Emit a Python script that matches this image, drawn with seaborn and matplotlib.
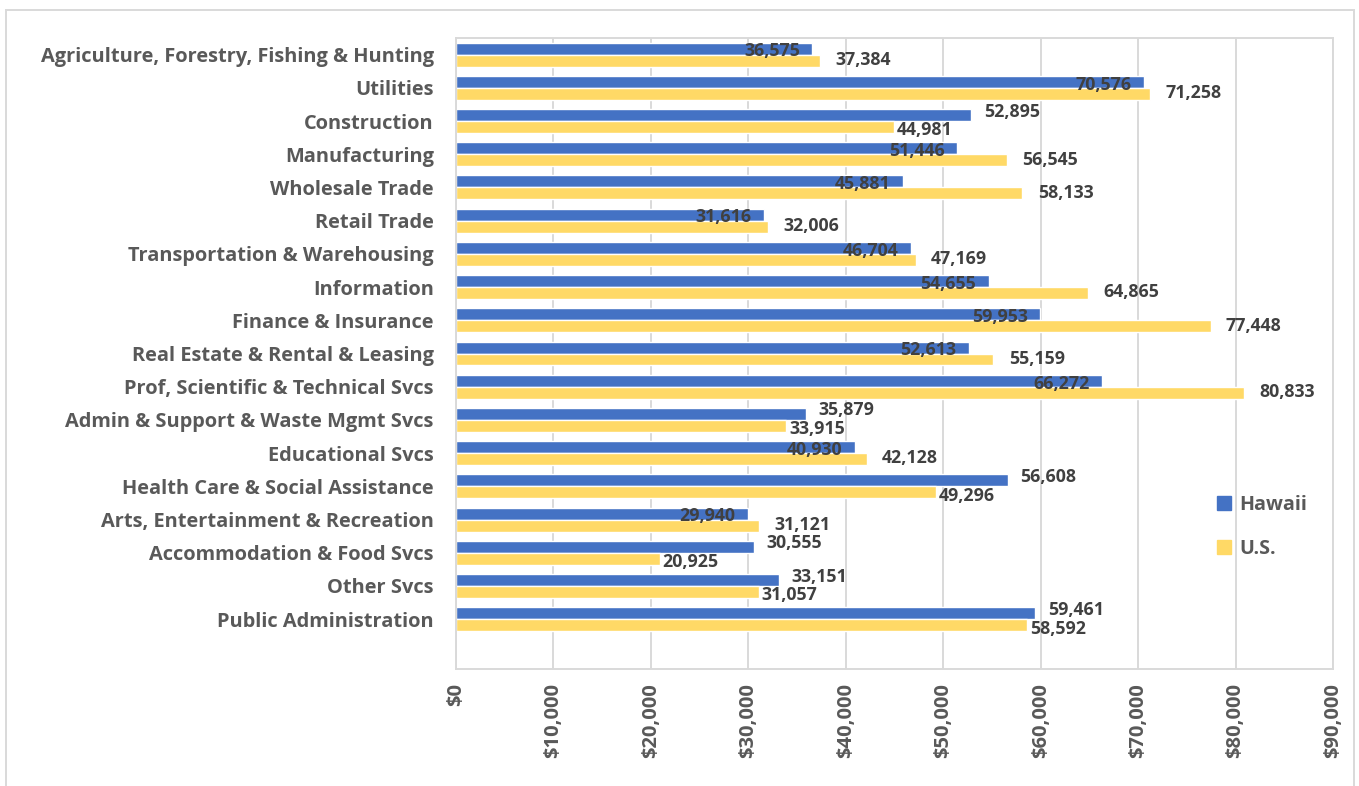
import matplotlib
matplotlib.use("Agg")
import matplotlib.pyplot as plt
import matplotlib.patches as mpatches
from matplotlib.ticker import FuncFormatter, MultipleLocator
import seaborn as sns
import pandas as pd

industries = [
    "Agriculture, Forestry, Fishing & Hunting",
    "Utilities",
    "Construction",
    "Manufacturing",
    "Wholesale Trade",
    "Retail Trade",
    "Transportation & Warehousing",
    "Information",
    "Finance & Insurance",
    "Real Estate & Rental & Leasing",
    "Prof, Scientific & Technical Svcs",
    "Admin & Support & Waste Mgmt Svcs",
    "Educational Svcs",
    "Health Care & Social Assistance",
    "Arts, Entertainment & Recreation",
    "Accommodation & Food Svcs",
    "Other Svcs",
    "Public Administration",
]
hawaii = [36575, 70576, 52895, 51446, 45881, 31616, 46704, 54655, 59953,
          52613, 66272, 35879, 40930, 56608, 29940, 30555, 33151, 59461]
us = [37384, 71258, 44981, 56545, 58133, 32006, 47169, 64865, 77448,
      55159, 80833, 33915, 42128, 49296, 31121, 20925, 31057, 58592]
series = ["Hawaii", "U.S."]
colors = ["#4472C4", "#FFD966"]

df = pd.DataFrame({
    "Industry": industries * 2,
    "Wage": hawaii + us,
    "Area": [series[0]] * len(industries) + [series[1]] * len(industries),
})

sns.set_style("white")
plt.rcParams["font.family"] = ["Open Sans", "DejaVu Sans"]

fig = plt.figure(figsize=(13.59, 7.86), dpi=100)
ax = fig.add_axes([456 / 1359, 1 - 669 / 786, (1333 - 456) / 1359, (669 - 38) / 786])

sns.barplot(data=df, y="Industry", x="Wage", hue="Area", palette=colors,
            order=industries, hue_order=series, orient="h", width=0.72,
            saturation=1, ax=ax, errorbar=None, legend=False)

ax.set_xlim(0, 90000)
ax.set_ylim(len(industries) + 0.5, -0.5)
ax.xaxis.set_major_locator(MultipleLocator(10000))
ax.xaxis.set_major_formatter(FuncFormatter(lambda v, p: f"${v:,.0f}"))
ax.grid(axis="x", color="#D9D9D9", linewidth=1.4)
ax.set_axisbelow(True)
for s in ax.spines.values():
    s.set_color("#D9D9D9")
    s.set_linewidth(1.4)
ax.set_xlabel("")
ax.set_ylabel("")
ax.tick_params(axis="x", length=0, pad=10, labelsize=14.5, labelcolor="#595959",
               labelrotation=90)
ax.tick_params(axis="y", length=0, pad=16, labelsize=14.4, labelcolor="#595959")
for t in ax.get_xticklabels() + ax.get_yticklabels():
    t.set_fontweight("bold")

# value labels beside each bar end
lab = dict(textcoords="offset points", va="center", fontsize=12.8,
           fontweight="bold", color="#404040")
for i, (h, u) in enumerate(zip(hawaii, us)):
    if h > u:
        ax.annotate(f"{h:,}", (h, i - 0.18), xytext=(9, 2.5), ha="left", **lab)
        ax.annotate(f"{u:,}", (u, i + 0.18), xytext=(2, -2.5), ha="left", **lab)
    else:
        ax.annotate(f"{h:,}", (h, i - 0.18), xytext=(-9, -2), ha="right", **lab)
        ax.annotate(f"{u:,}", (u, i + 0.18), xytext=(11, 0.5), ha="left", **lab)

handles = [mpatches.Patch(color=c, label=s) for c, s in zip(colors, series)]
leg = fig.legend(handles=handles, loc="center left", bbox_to_anchor=(1199 / 1359, 1 - 527 / 786),
                 frameon=False, handlelength=0.7, handleheight=0.7, handletextpad=0.45,
                 labelspacing=1.2, prop={"size": 14.2, "weight": "bold"})
for t in leg.get_texts():
    t.set_color("#595959")

fig.patches.append(mpatches.Rectangle((6 / 1359, -0.02), 1348 / 1359, 1 - 10 / 786 + 0.02,
                                      transform=fig.transFigure, fill=False,
                                      edgecolor="#D9D9D9", linewidth=1.4))

fig.savefig("out.png", dpi=100)
